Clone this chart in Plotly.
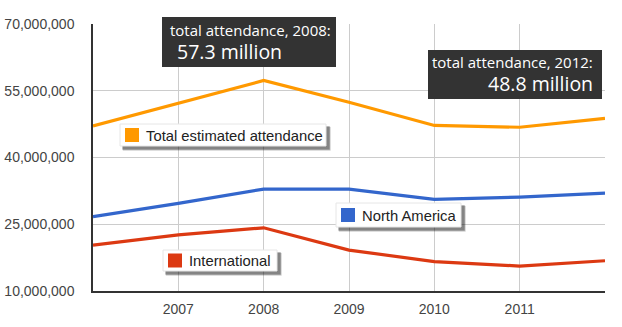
import plotly.graph_objects as go

years = [2006, 2007, 2008, 2009, 2010, 2011, 2012]
total = [47.1e6, 52.2e6, 57.3e6, 52.4e6, 47.2e6, 46.8e6, 48.8e6]
north_america = [26.7e6, 29.7e6, 32.9e6, 32.9e6, 30.6e6, 31.1e6, 32.0e6]
international = [20.3e6, 22.6e6, 24.2e6, 19.2e6, 16.6e6, 15.6e6, 16.8e6]
ytick_vals = [10e6, 25e6, 40e6, 55e6, 70e6]
ytick_text = ["10,000,000", "25,000,000", "40,000,000", "55,000,000", "70,000,000"]
xtick_vals = [2007, 2008, 2009, 2010, 2011]

ORANGE, BLUE, RED = "#FF9900", "#3366CC", "#DC3912"
W, H = 622, 327
L, R, T, B = 93, 605, 24, 291

def px(x):
    return (x - L) / (R - L)

def py(y):
    return (B - y) / (B - T)

fig = go.Figure()
for name, vals, col in [("Total estimated attendance", total, ORANGE),
                        ("North America", north_america, BLUE),
                        ("International", international, RED)]:
    fig.add_trace(go.Scatter(x=years, y=vals, mode="lines", name=name,
                             line=dict(color=col, width=3.2), showlegend=False,
                             cliponaxis=False))

shapes = []
annotations = []

def label_box(x0, y0, x1, y1, col, text):
    for i, op in enumerate([0.12, 0.18, 0.28]):
        d = 3 - i
        shapes.append(dict(type="rect", xref="paper", yref="paper", layer="above",
                           x0=px(x0 + 2 + d * 0.3), x1=px(x1 + 3 + d * 0.6),
                           y0=py(y1 + 3 + d * 0.6), y1=py(y0 + 2 + d * 0.3),
                           fillcolor=f"rgba(0,0,0,{op})", line=dict(width=0)))
    shapes.append(dict(type="rect", xref="paper", yref="paper", layer="above",
                       x0=px(x0), x1=px(x1), y0=py(y1), y1=py(y0),
                       fillcolor="white", line=dict(color="#e6e6e6", width=1)))
    shapes.append(dict(type="rect", xref="paper", yref="paper", layer="above",
                       x0=px(x0 + 5), x1=px(x0 + 19), y0=py((y0 + y1) / 2 + 7),
                       y1=py((y0 + y1) / 2 - 7), fillcolor=col, line=dict(width=0)))
    annotations.append(dict(xref="paper", yref="paper", x=px(x0 + 24), y=py((y0 + y1) / 2 + 0.5),
                            xanchor="left", yanchor="middle", showarrow=False, text=text,
                            font=dict(family="Liberation Sans, Arial", size=14.8, color="#222222")))

label_box(120, 124, 326, 146, ORANGE, "Total estimated attendance")
label_box(336, 203, 461, 227, BLUE, "North America")
label_box(163, 250, 277, 271, RED, "International")

def dark_box(x0, y0, x1, y1):
    shapes.append(dict(type="rect", xref="paper", yref="paper", layer="above",
                       x0=px(x0), x1=px(x1), y0=py(y1), y1=py(y0),
                       fillcolor="#333333", line=dict(width=0)))

dark_box(162, 17, 336, 67)
annotations.append(dict(xref="paper", yref="paper", x=px(168), y=py(30), xanchor="left",
                        yanchor="middle", showarrow=False, text="total attendance, 2008:",
                        font=dict(family="Open Sans", size=15, color="white")))
annotations.append(dict(xref="paper", yref="paper", x=px(175), y=py(51), xanchor="left",
                        yanchor="middle", showarrow=False, text="57.3 million",
                        font=dict(family="Open Sans", size=19.5, color="white")))
dark_box(428, 50, 602, 99)
annotations.append(dict(xref="paper", yref="paper", x=px(595), y=py(62), xanchor="right",
                        yanchor="middle", showarrow=False, text="total attendance, 2012:",
                        font=dict(family="Open Sans", size=15, color="white")))
annotations.append(dict(xref="paper", yref="paper", x=px(595), y=py(83), xanchor="right",
                        yanchor="middle", showarrow=False, text="48.8 million",
                        font=dict(family="Open Sans", size=19.5, color="white")))

fig.update_layout(
    width=W, height=H,
    margin=dict(l=L, r=W - R, t=T, b=H - B, pad=0, autoexpand=False),
    plot_bgcolor="white", paper_bgcolor="white",
    shapes=shapes, annotations=annotations,
    xaxis=dict(range=[2006, 2012], tickvals=xtick_vals, ticktext=[str(v) for v in xtick_vals],
               showgrid=True, gridcolor="#cccccc", gridwidth=1, zeroline=False,
               showline=True, linecolor="#333333", linewidth=1.5, ticks="", automargin=False,
               ticklabelstandoff=4,
               tickfont=dict(family="Liberation Sans, Arial", size=14, color="#444444")),
    yaxis=dict(range=[10e6, 70e6], tickvals=ytick_vals, ticktext=ytick_text,
               showgrid=True, gridcolor="#cccccc", gridwidth=1, zeroline=False,
               showline=True, linecolor="#333333", linewidth=1.5, ticks="", automargin=False,
               ticklabelstandoff=14,
               tickfont=dict(family="Liberation Sans, Arial", size=14, color="#444444")),
)

fig.write_html("out.html")
